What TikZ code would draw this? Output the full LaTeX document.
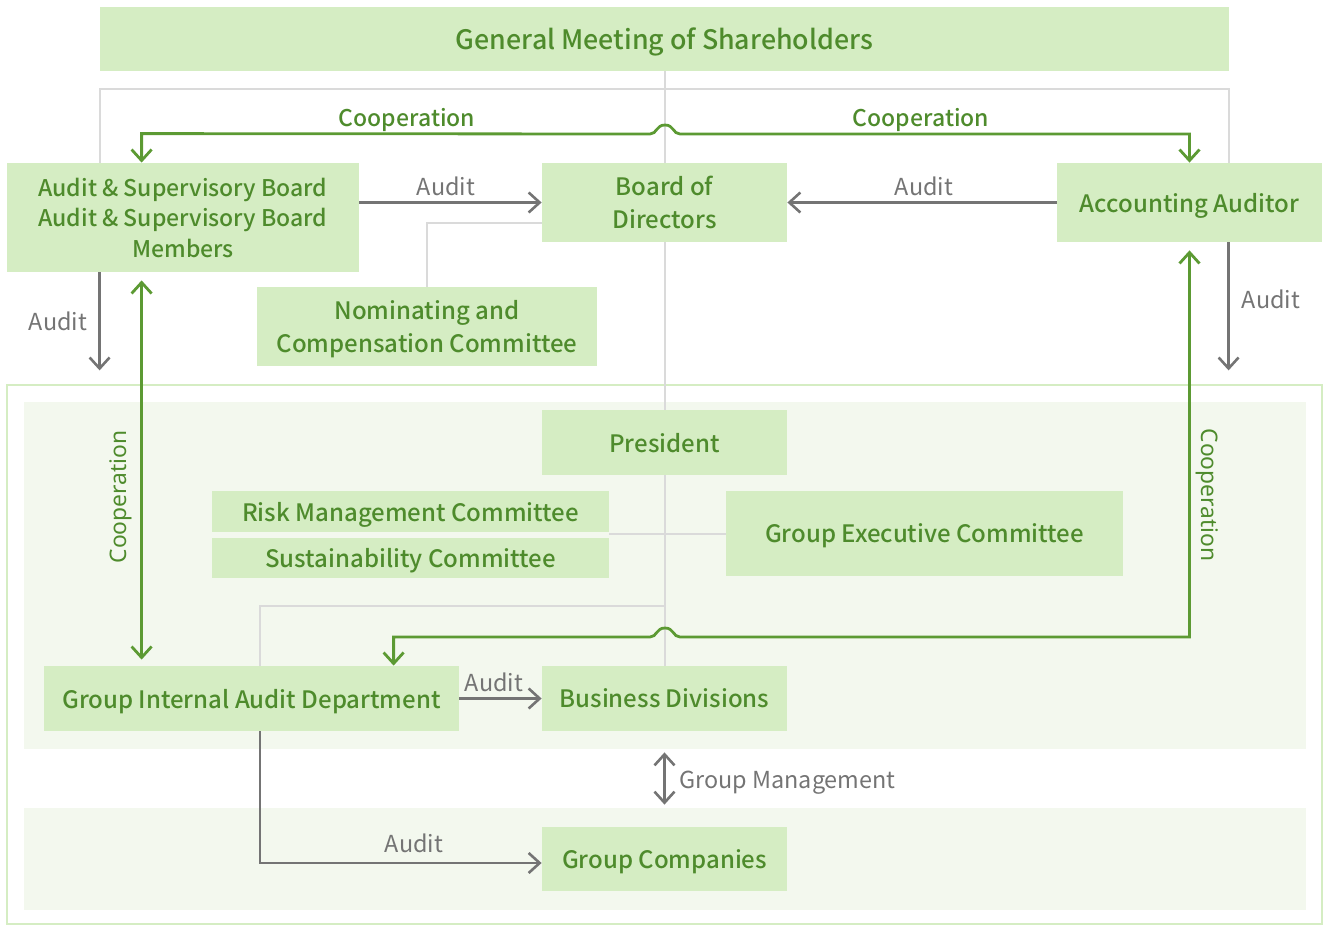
\documentclass[tikz,border=0pt]{standalone}
\usepackage{fontspec}
\setmainfont{Noto Sans CJK JP Medium}
\newfontfamily\lblfont{Noto Sans CJK JP}
\newfontfamily\rotfont{Noto Sans}
\usetikzlibrary{arrows.meta}

\definecolor{boxgreen}{HTML}{D5EDC3}
\definecolor{textgreen}{HTML}{4E8B2C}
\definecolor{linegreen}{HTML}{5C9A33}
\definecolor{panelgreen}{HTML}{F3F8EE}
\definecolor{wiregray}{HTML}{DADADA}
\definecolor{auditgray}{HTML}{747474}

\pgfdeclarelayer{panel}
\pgfdeclarelayer{wire}
\pgfsetlayers{panel,wire,main}

\tikzset{
  box/.style={fill=boxgreen, text=textgreen, inner sep=0pt, align=center,
    text depth=0pt, font=\fontsize{12}{16.3}\selectfont},
  wire/.style={draw=wiregray, line width=1pt},
  audit/.style={draw=auditgray, line width=1.3pt, -{Straight Barb[length=5.5pt,width=10pt]}},
  coop/.style={draw=linegreen, line width=1.4pt,
    {Straight Barb[length=5.5pt,width=10pt]}-{Straight Barb[length=5.5pt,width=10pt]}},
  auditlbl/.style={text=auditgray, inner sep=0pt, text depth=0pt, font=\lblfont\fontsize{11.7}{14}\selectfont},
  cooplbl/.style={text=textgreen, inner sep=0pt, text depth=0pt, font=\fontsize{11.5}{14}\selectfont},
}

\begin{document}
\begin{tikzpicture}[x=0.5pt, y=-0.5pt]
  \useasboundingbox (0,0) rectangle (1324,926);

  % boxes
  \node[box, minimum width=564.5pt, minimum height=32pt, font=\fontsize{13.4}{16}\selectfont] (gm) at (664.5,39) {General Meeting of Shareholders};
  \node[box, minimum width=176pt, minimum height=54.5pt, font=\fontsize{11.5}{15.3}\selectfont] (asb) at (183,217.5) {Audit \& Supervisory Board\\Audit \& Supervisory Board\\Members};
  \node[box, minimum width=122.5pt, minimum height=39.5pt] (bod) at (664.5,202.5) {Board of\\Directors};
  \node[box, minimum width=132.5pt, minimum height=39.5pt] (aa) at (1189.5,202.5) {Accounting Auditor};
  \node[box, minimum width=170pt, minimum height=39.5pt] (ncc) at (427,326.5) {Nominating and\\Compensation Committee};
  \node[box, minimum width=122.5pt, minimum height=32.5pt] (pres) at (664.5,442.5) {President};
  \node[box, minimum width=198.5pt, minimum height=20.5pt] (rmc) at (410.5,511.5) {Risk Management Committee};
  \node[box, minimum width=198.5pt, minimum height=20pt] (sc) at (410.5,558) {Sustainability Committee};
  \node[box, minimum width=198.5pt, minimum height=42.5pt] (gec) at (924.5,533.5) {Group Executive Committee};
  \node[box, minimum width=207.5pt, minimum height=32.5pt] (giad) at (251.5,698.5) {Group Internal Audit Department};
  \node[box, minimum width=122.5pt, minimum height=32.5pt] (bd) at (664.5,698.5) {Business Divisions};
  \node[box, minimum width=122.5pt, minimum height=32pt] (gc) at (664.5,859) {Group Companies};

  % panels
  \begin{pgfonlayer}{panel}
    \draw[boxgreen, line width=1.2pt] (7,385) rectangle (1322,924);
    \fill[panelgreen] (24,402) rectangle (1306,749);
    \fill[panelgreen] (24,808) rectangle (1306,910);
  \end{pgfonlayer}

  % organisation lines
  \begin{pgfonlayer}{wire}
    \draw[wire] (gm.south) -- (bd.north);
    \draw[wire] ([xshift=46.5pt]asb.north west) -- ++(0,-74) -| ([xshift=86pt]aa.north west);
    \draw[wire] ([yshift=-10.25pt]bod.west) -| (ncc.north);
    \draw[wire] (gec.west) -- (gec.west -| rmc.east);
    \draw[wire] ([xshift=4.25pt]giad.north) |- ([yshift=30pt]bd.north);
  \end{pgfonlayer}

  % cooperation, hopping over the centre line
  \draw[coop] ([xshift=67.5pt]asb.north west) -- ++(0,-29) -- (650,134)
    .. controls (657,134) and (656,125) .. (665,125)
    .. controls (674,125) and (673,134) .. (680,134) -| (aa.north);
  \draw[coop, shorten <=4pt] (aa.south) -- (1189.5,637) -- (680,637)
    .. controls (673,637) and (674,628) .. (665,628)
    .. controls (656,628) and (657,637) .. (650,637) -| ([xshift=175pt]giad.north west);
  \draw[coop, shorten <=4pt, shorten >=3pt] ([xshift=67.5pt]asb.south west) -- ([xshift=49pt]giad.north west);

  % audit
  \draw[audit] (asb.east |- bod.west) -- (bod.west);
  \draw[audit] (aa.west) -- (bod.east);
  \draw[audit] ([xshift=46.5pt]asb.south west) -- ++(0,98);
  \draw[audit] ([xshift=86pt]aa.south west) -- ++(0,128);
  \draw[audit] (giad.east) -- (bd.west);
  \draw[audit] ([xshift=4.25pt]giad.south) |- ([yshift=-2pt]gc.west);
  \draw[audit, {Straight Barb[length=5.5pt,width=10pt]}-{Straight Barb[length=5.5pt,width=10pt]},
    shorten <=10.5pt, shorten >=11pt] (bd.south) -- (gc.north);

  % labels
  \node[cooplbl] (coopa) at (407,117) {Cooperation};
  \node[cooplbl] (coopb) at (921,117) {Cooperation};
  \node[cooplbl, rotate=90, font=\rotfont\fontsize{11.4}{14}\selectfont] (coopc) at (118,497) {Cooperation};
  \node[cooplbl, rotate=-90, font=\rotfont\fontsize{11.4}{14}\selectfont] (coopd) at (1210,495) {Cooperation};
  \node[auditlbl] (audita) at (446,186) {Audit};
  \node[auditlbl] (auditb) at (924,186) {Audit};
  \node[auditlbl] (auditc) at (58,321) {Audit};
  \node[auditlbl] (auditd) at (1271,299) {Audit};
  \node[auditlbl] (audite) at (494,682) {Audit};
  \node[auditlbl] (auditf) at (414,843) {Audit};
  \node[auditlbl, anchor=west] (gmgmt) at (679,780) {Group Management};
\end{tikzpicture}
\end{document}
